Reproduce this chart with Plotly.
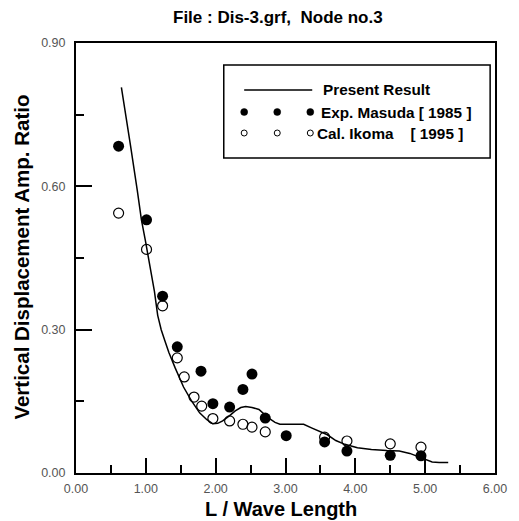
import plotly.graph_objects as go

# Present Result (solid line)
line_x = [0.65, 0.72, 0.784, 0.877, 0.937, 0.993, 1.06, 1.123, 1.17, 1.22, 1.27, 1.33, 1.42,
          1.54, 1.65, 1.77, 1.87, 1.96, 2.03, 2.10, 2.20, 2.28, 2.36, 2.43, 2.52, 2.62, 2.75,
          2.85, 2.92, 3.10, 3.26, 3.38, 3.50, 3.60, 3.72, 3.85, 4.03, 4.23, 4.45, 4.63, 4.78,
          4.93, 5.03, 5.10, 5.20, 5.33]
line_y = [0.807, 0.745, 0.682, 0.592, 0.530, 0.487, 0.430, 0.380, 0.330, 0.300, 0.278, 0.252, 0.220,
          0.180, 0.152, 0.126, 0.112, 0.103, 0.104, 0.109, 0.120, 0.130, 0.137, 0.139, 0.137, 0.133, 0.116,
          0.106, 0.102, 0.102, 0.102, 0.094, 0.086, 0.080, 0.068, 0.060, 0.053, 0.049, 0.047, 0.046, 0.041,
          0.033, 0.027, 0.023, 0.022, 0.022]

# Exp. Masuda [1985] (filled circles)
masuda_x = [0.61, 1.01, 1.24, 1.45, 1.79, 1.96, 2.20, 2.39, 2.52, 2.71, 3.01, 3.56, 3.88, 4.50, 4.94]
masuda_y = [0.684, 0.530, 0.370, 0.264, 0.213, 0.145, 0.138, 0.175, 0.207, 0.115, 0.078, 0.065, 0.046, 0.037, 0.036]

# Cal. Ikoma [1995] (open circles)
ikoma_x = [0.61, 1.01, 1.24, 1.45, 1.55, 1.69, 1.80, 1.96, 2.20, 2.39, 2.52, 2.71, 3.56, 3.88, 4.50, 4.94]
ikoma_y = [0.544, 0.468, 0.350, 0.241, 0.201, 0.159, 0.140, 0.114, 0.109, 0.102, 0.096, 0.086, 0.075, 0.067, 0.061, 0.054]

x_ticks = [0, 1, 2, 3, 4, 5, 6]
y_ticks = [0.0, 0.3, 0.6, 0.9]

FONT = "Liberation Sans, Arial, sans-serif"

fig = go.Figure()
fig.add_trace(go.Scatter(x=line_x, y=line_y, mode="lines",
                         line=dict(color="black", width=1.5), showlegend=False))
fig.add_trace(go.Scatter(x=masuda_x, y=masuda_y, mode="markers",
                         marker=dict(symbol="circle", size=11, color="black",
                                     line=dict(color="black", width=0)), showlegend=False))
fig.add_trace(go.Scatter(x=ikoma_x, y=ikoma_y, mode="markers",
                         marker=dict(symbol="circle-open", size=10, color="black",
                                     line=dict(color="black", width=1.2)), showlegend=False))

W, H = 519, 521
L, R, T, B = 76, 12, 43, 48
pw, ph = W - L - R, H - T - B


def px(xp):
    return (xp - L) / pw


def py(yp):
    return (H - B - yp) / ph


fig.update_layout(
    width=W, height=H,
    margin=dict(l=L, r=R, t=T, b=B),
    paper_bgcolor="white", plot_bgcolor="white",
    font=dict(family=FONT, color="black"),
    showlegend=False,
)
fig.update_xaxes(range=[0, 6], tickvals=x_ticks, tickformat=".2f",
                 showgrid=False, zeroline=False,
                 showline=True, linecolor="black", linewidth=2, mirror=True,
                 ticks="inside", ticklen=15, tickwidth=2, tickcolor="black",
                 minor=dict(ticks="inside", ticklen=8, tickwidth=2, tickcolor="black", dtick=0.5, showgrid=False),
                 tickfont=dict(size=12.5, color="#555555", family=FONT),
                 ticklabelstandoff=3)
fig.update_yaxes(range=[0, 0.9], tickvals=y_ticks, tickformat=".2f",
                 showgrid=False, zeroline=False,
                 showline=True, linecolor="black", linewidth=2, mirror=True,
                 ticks="inside", ticklen=16, tickwidth=2, tickcolor="black",
                 minor=dict(ticks="inside", ticklen=8, tickwidth=2, tickcolor="black", dtick=0.15, showgrid=False),
                 tickfont=dict(size=12.5, color="#555555", family=FONT),
                 ticklabelstandoff=6)

shapes = []
# legend box
shapes.append(dict(type="rect", xref="paper", yref="paper",
                   x0=px(228), x1=px(502), y0=py(158), y1=py(65),
                   line=dict(color="black", width=1.5), fillcolor="white", layer="above"))
# legend line sample
shapes.append(dict(type="line", xref="paper", yref="paper",
                   x0=px(249), x1=px(319), y0=py(90), y1=py(90),
                   line=dict(color="black", width=1.5), layer="above"))
for xc in [249, 283, 317]:
    shapes.append(dict(type="circle", xref="paper", yref="paper",
                       xsizemode="pixel", ysizemode="pixel",
                       xanchor=px(xc), yanchor=py(112),
                       x0=-3.5, x1=3.5, y0=-3.5, y1=3.5,
                       fillcolor="black", line=dict(color="black", width=0.5), layer="above"))
    shapes.append(dict(type="circle", xref="paper", yref="paper",
                       xsizemode="pixel", ysizemode="pixel",
                       xanchor=px(xc), yanchor=py(133),
                       x0=-3, x1=3, y0=-3, y1=3,
                       fillcolor="white", line=dict(color="black", width=1), layer="above"))
fig.update_layout(shapes=shapes)

ann = []
legend_font = dict(family=FONT, size=15.3, color="black")
ann.append(dict(text="<b>Present Result</b>", x=px(328), y=py(90), xref="paper", yref="paper",
                xanchor="left", yanchor="middle", showarrow=False, font=legend_font))
ann.append(dict(text="<b>Exp. Masuda [ 1985 ]</b>", x=px(326), y=py(112), xref="paper", yref="paper",
                xanchor="left", yanchor="middle", showarrow=False, font=legend_font))
ann.append(dict(text="<b>Cal. Ikoma\u00a0\u00a0\u00a0 [ 1995 ]</b>", x=px(322), y=py(133), xref="paper", yref="paper",
                xanchor="left", yanchor="middle", showarrow=False, font=legend_font))
# title
ann.append(dict(text="<b>File : Dis-3.grf,\u00a0 Node no.3</b>", x=px(284), y=py(18), xref="paper", yref="paper",
                xanchor="center", yanchor="middle", showarrow=False,
                font=dict(family=FONT, size=17, color="black")))
# axis titles
ann.append(dict(text="<b>L / Wave Length</b>", x=px(287), y=py(509), xref="paper", yref="paper",
                xanchor="center", yanchor="middle", showarrow=False,
                font=dict(family=FONT, size=20, color="black")))
ann.append(dict(text="<b>Vertical Displacement Amp. Ratio</b>", x=px(19), y=py(257), xref="paper", yref="paper",
                xanchor="center", yanchor="middle", showarrow=False, textangle=-90,
                font=dict(family=FONT, size=20.5, color="black")))
fig.update_layout(annotations=ann)

fig.write_html("out.html", config={"displayModeBar": False},
               post_script="document.body.style.margin='0';document.body.style.overflow='hidden';")
